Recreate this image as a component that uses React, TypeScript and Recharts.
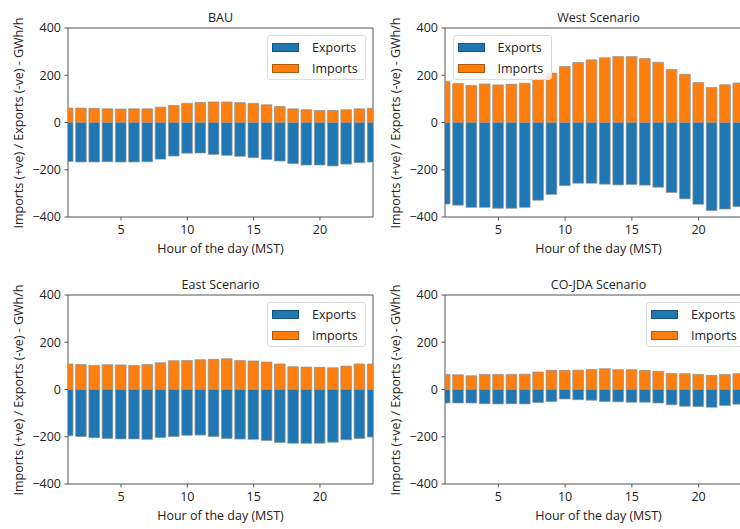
import { BarChart, Bar, XAxis, YAxis, ReferenceArea } from 'recharts';

const hours = [1, 2, 3, 4, 5, 6, 7, 8, 9, 10, 11, 12, 13, 14, 15, 16, 17, 18, 19, 20, 21, 22, 23, 24];
const xTicks = [5, 10, 15, 20];
const yTicks = [-400, -200, 0, 200, 400];

const bauExports = [-165, -167, -167, -166, -167, -167, -166, -155, -142, -130, -129, -135, -139, -143, -149, -156, -163, -174, -180, -180, -184, -176, -170, -167];
const bauImports = [61, 61, 60, 58, 57, 58, 58, 65, 72, 81, 85, 87, 87, 84, 81, 75, 68, 58, 54, 51, 51, 54, 58, 60];

const westExports = [-345, -350, -359, -359, -363, -363, -359, -329, -304, -267, -257, -257, -261, -264, -262, -265, -274, -296, -323, -346, -372, -366, -356, -350];
const westImports = [173, 165, 157, 163, 159, 162, 166, 184, 209, 237, 254, 265, 274, 279, 279, 271, 255, 224, 204, 169, 148, 160, 167, 170];

const eastExports = [-196, -199, -204, -207, -209, -209, -211, -203, -199, -194, -193, -199, -207, -210, -211, -216, -224, -227, -228, -227, -223, -213, -207, -201];
const eastImports = [108, 106, 102, 105, 104, 102, 106, 113, 122, 123, 126, 128, 130, 123, 121, 116, 108, 96, 95, 94, 92, 99, 108, 108];

const cojdaExports = [-57, -57, -57, -60, -61, -60, -61, -55, -51, -40, -43, -45, -51, -52, -54, -54, -57, -65, -71, -72, -75, -68, -62, -60];
const cojdaImports = [64, 62, 58, 64, 64, 64, 65, 74, 81, 81, 82, 85, 88, 84, 84, 81, 77, 68, 67, 64, 60, 64, 67, 68];

const BLUE = '#1f77b4';
const ORANGE = '#ff7f0e';
const SPINE = '#555';
const TEXT = '#222';
const FONT = '"Open Sans", "Noto Sans", sans-serif';
const FS = 12.5;

const tickStyle = { fill: TEXT, fontSize: FS, fontFamily: FONT };
const fmt = (v: number) => (v < 0 ? '\u2212' + Math.abs(v) : String(v));

interface PanelProps {
  title: string;
  exportsData: number[];
  importsData: number[];
  left: number;
  top: number;
  plotWidth: number;
  legendSide: 'left' | 'right';
}

function Panel({ title, exportsData, importsData, left, top, plotWidth, legendSide }: PanelProps) {
  const data = hours.map((h, i) => ({ hour: h, exports: exportsData[i], imports: importsData[i] }));
  const axisW = 68;
  const marginTop = 28;
  const plotH = 189;
  const xAxisH = 48;
  const chartW = axisW + plotWidth + 6;
  const chartH = marginTop + plotH + xAxisH;
  const barSize = (plotWidth / 23) * 0.8;
  const plotLeft = left + axisW;
  const plotTop = top + marginTop;
  const cx = plotLeft + plotWidth / 2;

  const legendLeft = legendSide === 'right' ? plotLeft + plotWidth - 7 - 99 : plotLeft + 7.5;

  return (
    <>
      <div style={{ position: 'absolute', left, top }}>
        <BarChart
          width={chartW}
          height={chartH}
          data={data}
          stackOffset="sign"
          margin={{ top: marginTop, right: chartW - axisW - plotWidth, left: 0, bottom: 0 }}
        >
          <XAxis
            dataKey="hour"
            type="number"
            domain={[1, 24]}
            ticks={xTicks}
            allowDataOverflow
            height={xAxisH}
            axisLine={false}
            tickSize={3.5}
            tickMargin={5}
            tickLine={{ stroke: SPINE }}
            tick={tickStyle}
          />
          <YAxis
            type="number"
            domain={[-400, 400]}
            ticks={yTicks}
            width={axisW}
            axisLine={false}
            tickSize={3.5}
            tickMargin={3.5}
            tickLine={{ stroke: SPINE }}
            tick={tickStyle}
            tickFormatter={fmt}
          />
          <Bar dataKey="exports" stackId="a" fill={BLUE} stroke="#8f8f8f" strokeOpacity={0.7} strokeWidth={1} barSize={barSize} isAnimationActive={false} />
          <Bar dataKey="imports" stackId="a" fill={ORANGE} stroke="#8f8f8f" strokeOpacity={0.7} strokeWidth={1} barSize={barSize} isAnimationActive={false} />
          <ReferenceArea x1={1} x2={24} y1={-400} y2={400} fill="none" stroke={SPINE} strokeWidth={1} ifOverflow="visible" />
        </BarChart>
      </div>
      <div style={{ position: 'absolute', left: cx, top: top + 10, transform: 'translateX(-50%)', fontSize: FS, lineHeight: '15px', whiteSpace: 'nowrap', color: TEXT }}>
        {title}
      </div>
      <div style={{ position: 'absolute', left: cx, top: top + 241, transform: 'translateX(-50%)', fontSize: FS, lineHeight: '15px', whiteSpace: 'nowrap', color: TEXT }}>
        Hour of the day (MST)
      </div>
      <div
        style={{
          position: 'absolute',
          left: left + 18,
          top: plotTop + plotH / 2,
          transform: 'translate(-50%, -50%) rotate(-90deg)',
          fontSize: FS,
          lineHeight: '15px',
          whiteSpace: 'nowrap',
          color: TEXT,
        }}
      >
        Imports (+ve) / Exports (-ve) - GWh/h
      </div>
      <div
        style={{
          position: 'absolute',
          left: legendLeft,
          top: plotTop + 6.5,
          width: 99,
          height: 45,
          boxSizing: 'border-box',
          border: '1px solid #dcdcdc',
          borderRadius: 3,
          background: 'rgba(255,255,255,0.8)',
          fontSize: FS,
          color: TEXT,
        }}
      >
        {[
          { name: 'Exports', color: BLUE },
          { name: 'Imports', color: ORANGE },
        ].map((item, i) => (
          <div key={item.name} style={{ position: 'absolute', left: 4, top: 6 + i * 21, height: 12, display: 'flex', alignItems: 'center' }}>
            <span style={{ display: 'inline-block', width: 27, height: 9, background: item.color, border: '1px solid rgba(0,0,0,0.3)', boxSizing: 'border-box' }} />
            <span style={{ marginLeft: 13, lineHeight: '12px' }}>{item.name}</span>
          </div>
        ))}
      </div>
    </>
  );
}

export default function App() {
  return (
    <div style={{ position: 'absolute', left: 0, top: 0, width: 740, height: 529, overflow: 'hidden', background: '#fff', fontFamily: FONT }}>
      <Panel title="BAU" exportsData={bauExports} importsData={bauImports} left={0} top={0} plotWidth={305} legendSide="right" />
      <Panel title="West Scenario" exportsData={westExports} importsData={westImports} left={377} top={0} plotWidth={307} legendSide="left" />
      <Panel title="East Scenario" exportsData={eastExports} importsData={eastImports} left={0} top={267} plotWidth={305} legendSide="right" />
      <Panel title="CO-JDA Scenario" exportsData={cojdaExports} importsData={cojdaImports} left={377} top={267} plotWidth={307} legendSide="right" />
    </div>
  );
}
